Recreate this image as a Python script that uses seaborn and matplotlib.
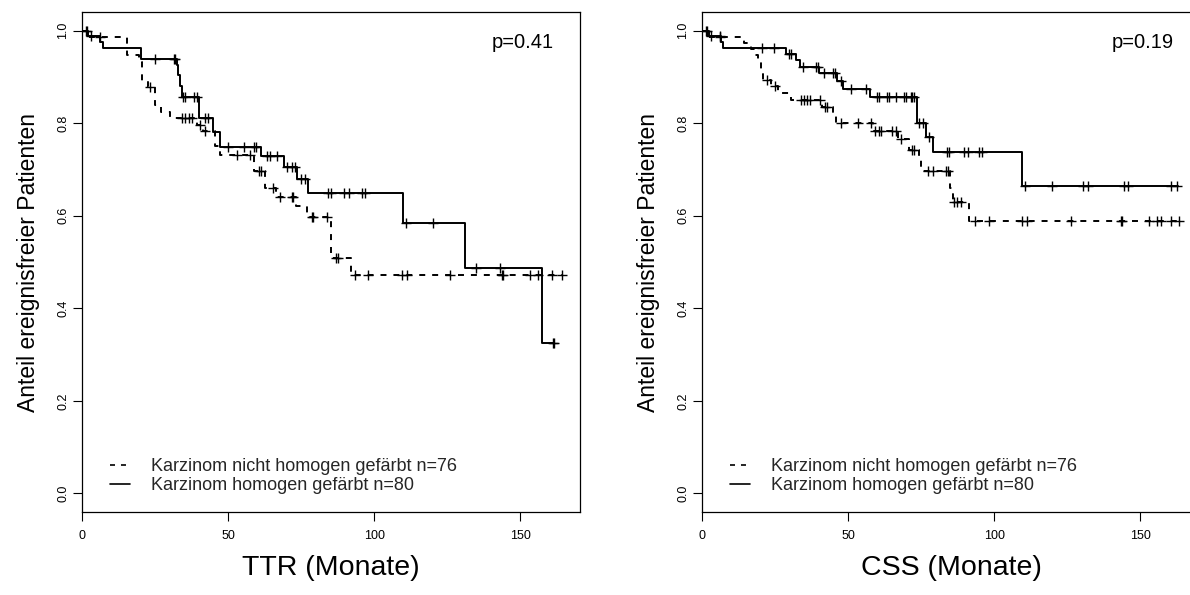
import numpy as np
import pandas as pd
import matplotlib
matplotlib.use("Agg")
import matplotlib.pyplot as plt
from matplotlib.lines import Line2D
import seaborn as sns

# ---------------- data ----------------
# Left panel: TTR
ttr_hom_times = [2.2, 6.0, 7.1, 20.1, 32.4, 33.0, 33.6, 34.1, 40.2, 45.0, 47.3, 61.3,
                 69.0, 73.5, 77.5, 110.0, 131.2, 157.4]
ttr_hom_surv = [0.9875, 0.975, 0.9625, 0.9375, 0.925, 0.905, 0.88, 0.856, 0.81, 0.78,
                0.748, 0.728, 0.706, 0.679, 0.648, 0.585, 0.487, 0.325]
ttr_hom_end = 161.7
ttr_hom_cens = [1.6, 3.0, 25.0, 31.4, 32.0, 34.7, 35.3, 38.5, 39.4, 42.2, 43.3, 50.1,
                55.6, 59.0, 59.6, 63.5, 64.5, 66.8, 70.2, 71.9, 73.0, 74.9, 76.4,
                84.3, 85.2, 89.8, 91.5, 96.0, 96.8, 110.8, 120.3, 134.8, 143.2,
                161.2, 161.7]

ttr_inh_times = [2.0, 15.5, 19.5, 20.5, 22.5, 25.0, 27.0, 30.0, 39.5, 41.5, 45.5, 47.3,
                 58.8, 62.6, 66.5, 73.4, 77.0, 85.4, 92.2]
ttr_inh_surv = [0.987, 0.947, 0.933, 0.892, 0.879, 0.84, 0.825, 0.811, 0.797, 0.783,
                0.75, 0.731, 0.697, 0.660, 0.641, 0.62, 0.598, 0.508, 0.473]
ttr_inh_end = 164.5
ttr_inh_cens = [1.5, 6.0, 23.3, 34.1, 35.3, 36.5, 37.6, 40.4, 42.1, 53.0, 57.6, 60.5,
                61.2, 65.3, 67.8, 71.9, 72.3, 78.7, 79.2, 83.8, 86.8, 87.6, 93.5,
                98.0, 109.5, 111.2, 126.0, 143.7, 144.2, 153.4, 156.2, 160.9, 164.3]

# Right panel: CSS
css_hom_times = [2.3, 6.5, 7.1, 28.8, 32.1, 33.6, 40.1, 46.1, 48.3, 57.6, 73.5, 76.8,
                 79.1, 109.7]
css_hom_surv = [0.9875, 0.975, 0.9625, 0.95, 0.937, 0.921, 0.908, 0.89, 0.874, 0.857,
                0.80, 0.771, 0.738, 0.664]
css_hom_end = 163.0
css_hom_cens = [1.6, 3.0, 6.0, 20.7, 24.7, 29.7, 30.4, 34.7, 39.0, 39.7, 41.8, 45.0,
                45.7, 47.5, 50.9, 56.1, 60.0, 60.6, 63.5, 64.0, 66.3, 69.2, 69.8,
                71.5, 72.0, 72.6, 74.3, 75.8, 77.6, 84.0, 84.6, 89.7, 90.9, 94.9,
                96.0, 110.5, 120.0, 130.5, 132.0, 144.5, 146.0, 160.5, 162.5]

css_inh_times = [2.0, 14.4, 16.7, 18.3, 19.3, 20.1, 21.0, 23.5, 26.0, 30.5, 41.0, 45.0,
                 46.0, 58.5, 67.2, 71.0, 74.2, 75.0, 84.8, 85.8, 91.5]
css_inh_surv = [0.987, 0.973, 0.96, 0.947, 0.933, 0.907, 0.893, 0.88, 0.866, 0.85,
                0.834, 0.818, 0.801, 0.784, 0.765, 0.742, 0.72, 0.697, 0.66, 0.63,
                0.588]
css_inh_end = 163.5
css_inh_cens = [1.5, 6.0, 22.3, 25.0, 34.0, 34.9, 35.8, 37.0, 40.4, 42.0, 42.9, 47.5,
                53.5, 57.8, 59.4, 60.6, 61.2, 65.2, 66.3, 68.0, 71.9, 72.5, 77.4,
                79.1, 83.7, 84.2, 86.3, 87.4, 88.6, 93.3, 98.3, 109.7, 111.4, 126.3,
                143.4, 143.9, 153.0, 155.9, 157.0, 160.5, 163.3]

label_inh = "Karzinom nicht homogen gefärbt n=76"
label_hom = "Karzinom homogen gefärbt n=80"
panel_xlabels = ["TTR (Monate)", "CSS (Monate)"]
panel_pvalues = ["p=0.41", "p=0.19"]
ylabel = "Anteil ereignisfreier Patienten"
x_ticks = [0, 50, 100, 150]
y_ticks = [0.0, 0.2, 0.4, 0.6, 0.8, 1.0]

# ---------------- helpers ----------------
def km_frame(times, surv, end):
    x = np.array([0.0] + list(times) + [end])
    y = np.array([1.0] + list(surv) + [surv[-1]])
    return pd.DataFrame({"t": x, "s": y})

def cens_frame(df, cens):
    c = np.array(cens)
    idx = np.searchsorted(df["t"].values, c, side="right") - 1
    idx = np.clip(idx, 0, len(df) - 1)
    return pd.DataFrame({"t": c, "s": df["s"].values[idx]})

# ---------------- style ----------------
sns.set_theme(style="white")
plt.rcParams["font.family"] = ["Liberation Sans", "DejaVu Sans"]
plt.rcParams["lines.scale_dashes"] = False

fig = plt.figure(figsize=(11.9, 5.95), dpi=100)
W, H = 1190.0, 595.0
ax_l = fig.add_axes([82 / W, 1 - 512 / H, 498 / W, 500 / H])
ax_r = fig.add_axes([702 / W, 1 - 512 / H, 498 / W, 500 / H])

panels = [
    (ax_l, (ttr_inh_times, ttr_inh_surv, ttr_inh_end, ttr_inh_cens),
     (ttr_hom_times, ttr_hom_surv, ttr_hom_end, ttr_hom_cens)),
    (ax_r, (css_inh_times, css_inh_surv, css_inh_end, css_inh_cens),
     (css_hom_times, css_hom_surv, css_hom_end, css_hom_cens)),
]

dash = (0, (4.3, 5.0))
for i, (ax, inh, hom) in enumerate(panels):
    for data, ls in ((inh, dash), (hom, "-")):
        df = km_frame(data[0], data[1], data[2])
        sns.lineplot(data=df, x="t", y="s", ax=ax, color="black", lw=1.4,
                     linestyle=ls, drawstyle="steps-post", estimator=None,
                     sort=False, legend=False)
        cf = cens_frame(df, data[3])
        sns.scatterplot(data=cf, x="t", y="s", ax=ax, marker="+", color="black",
                        s=55, linewidth=1.0, legend=False, zorder=3)
    ax.set_xlim(0, 170.5)
    ax.set_ylim(-0.04, 1.04)
    ax.set_xticks(x_ticks)
    ax.set_xticklabels([str(v) for v in x_ticks])
    ax.set_yticks(y_ticks)
    ax.set_yticklabels([f"{v:.1f}" for v in y_ticks], rotation=90, va="center")
    ax.tick_params(axis="both", which="both", direction="out", length=6.3,
                   width=0.8, color="black", labelsize=9, labelcolor="black",
                   bottom=True, left=True)
    ax.tick_params(axis="x", pad=7)
    ax.tick_params(axis="y", pad=3)
    for sp in ax.spines.values():
        sp.set_visible(True)
        sp.set_color("black")
        sp.set_linewidth(0.9)
    ax.set_xlabel(panel_xlabels[i], fontsize=20.5, labelpad=9, color="black")
    ax.set_ylabel(ylabel, fontsize=16.5, labelpad=12, color="black")
    ax.text(151, 0.975, panel_pvalues[i], ha="center", va="center",
            fontsize=14.5, color="black")
    handles = [Line2D([0], [0], color="black", lw=1.2, linestyle=(0, (3.6, 4.3))),
               Line2D([0], [0], color="black", lw=1.2, linestyle="-")]
    ax.legend(handles, [label_inh, label_hom], loc="lower left",
              bbox_to_anchor=(0.056, 0.035), frameon=False, fontsize=13,
              handlelength=1.1, handletextpad=1.2, labelspacing=0.12,
              borderpad=0, borderaxespad=0)
    ax.grid(False)

fig.savefig("out.png", dpi=100)
